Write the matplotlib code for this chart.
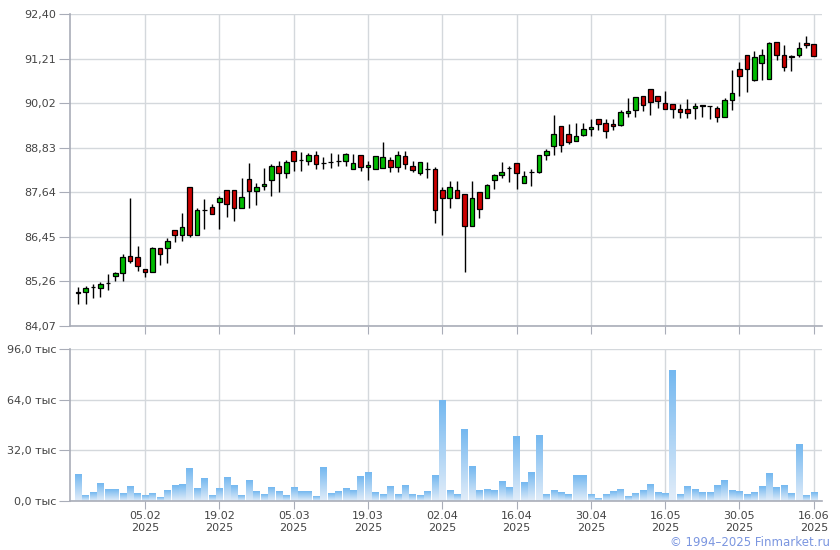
import numpy as np
import matplotlib
matplotlib.use("Agg")
import matplotlib.pyplot as plt
from matplotlib.colors import LinearSegmentedColormap

# Daily OHLC prices (100 trading days)
opens = [84.96, 84.97, 85.11, 85.08, 85.22, 85.40, 85.48, 85.94, 85.91, 85.59,
         85.50, 86.15, 86.14, 86.63, 86.49, 87.78, 86.49, 87.17, 87.25, 87.38,
         87.70, 87.70, 87.22, 87.99, 87.67, 87.80, 87.96, 88.34, 88.15, 88.74,
         88.50, 88.47, 88.63, 88.41, 88.45, 88.47, 88.47, 88.26, 88.63, 88.31,
         88.26, 88.29, 88.50, 88.31, 88.61, 88.34, 88.15, 88.26, 88.26, 87.70,
         87.49, 87.70, 87.59, 86.74, 87.65, 87.49, 87.97, 88.10, 88.29, 88.42,
         87.89, 88.18, 88.18, 88.63, 88.87, 89.41, 89.19, 89.01, 89.17, 89.33,
         89.59, 89.49, 89.46, 89.44, 89.75, 89.83, 90.21, 90.40, 90.21, 90.02,
         89.99, 89.86, 89.86, 89.89, 89.97, 89.94, 89.89, 89.65, 90.10, 90.93,
         91.30, 90.64, 91.09, 90.66, 91.65, 91.30, 91.28, 91.30, 91.62, 91.60]
highs = [85.11, 85.15, 85.18, 85.24, 85.46, 85.51, 85.99, 87.48, 86.20, 85.59,
         86.18, 86.15, 86.41, 86.63, 87.09, 87.78, 87.22, 87.46, 87.32, 87.53,
         87.70, 87.70, 88.02, 88.42, 87.89, 88.28, 88.39, 88.47, 88.50, 88.74,
         88.71, 88.69, 88.74, 88.58, 88.68, 88.66, 88.70, 88.66, 88.63, 88.47,
         88.61, 88.98, 88.58, 88.74, 88.74, 88.47, 88.45, 88.45, 88.31, 87.78,
         87.94, 87.94, 87.59, 87.94, 87.65, 87.86, 88.13, 88.45, 88.34, 88.42,
         88.21, 88.26, 88.63, 88.79, 89.70, 89.41, 89.46, 89.49, 89.49, 89.59,
         89.59, 89.59, 89.59, 89.83, 90.16, 90.18, 90.21, 90.40, 90.21, 90.34,
         89.99, 89.99, 90.13, 90.02, 89.97, 89.94, 89.94, 90.16, 90.90, 91.12,
         91.30, 91.41, 91.46, 91.65, 91.65, 91.57, 91.30, 91.65, 91.81, 91.60]
lows = [84.66, 84.67, 84.81, 84.84, 85.04, 85.26, 85.28, 85.74, 85.53, 85.37,
        85.50, 85.69, 85.74, 86.30, 86.33, 86.45, 86.49, 86.65, 87.06, 86.65,
        86.97, 86.86, 87.22, 87.21, 87.29, 87.69, 87.53, 87.64, 88.01, 88.22,
        88.22, 88.38, 88.25, 88.25, 88.29, 88.33, 88.33, 88.26, 88.22, 87.96,
        88.26, 88.29, 88.17, 88.17, 88.25, 88.17, 88.10, 88.01, 86.81, 86.51,
        87.21, 87.49, 85.50, 86.74, 86.94, 87.49, 87.73, 88.02, 87.91, 87.73,
        87.89, 87.81, 88.15, 88.49, 88.63, 88.71, 88.93, 89.01, 89.14, 89.14,
        89.30, 89.09, 89.30, 89.41, 89.65, 89.65, 89.81, 89.70, 89.89, 89.86,
        89.62, 89.62, 89.62, 89.59, 89.65, 89.59, 89.51, 89.65, 89.83, 90.21,
        90.32, 90.61, 90.64, 90.66, 91.17, 90.87, 90.87, 91.25, 91.49, 91.28]
closes = [84.97, 85.08, 85.11, 85.19, 85.22, 85.48, 85.91, 85.80, 85.66, 85.50,
          86.15, 85.98, 86.35, 86.50, 86.71, 86.49, 87.17, 87.17, 87.06, 87.49,
          87.33, 87.22, 87.51, 87.67, 87.78, 87.87, 88.34, 88.15, 88.45, 88.47,
          88.50, 88.63, 88.39, 88.41, 88.45, 88.47, 88.66, 88.42, 88.31, 88.38,
          88.61, 88.58, 88.31, 88.63, 88.39, 88.23, 88.45, 88.26, 87.17, 87.49,
          87.78, 87.49, 86.74, 87.49, 87.19, 87.83, 88.10, 88.18, 88.29, 88.15,
          88.07, 88.18, 88.63, 88.74, 89.19, 88.90, 88.98, 89.14, 89.33, 89.38,
          89.46, 89.27, 89.41, 89.78, 89.81, 90.18, 89.97, 90.05, 90.08, 89.86,
          89.86, 89.78, 89.75, 89.94, 89.94, 89.94, 89.65, 90.10, 90.29, 90.74,
          90.93, 91.25, 91.30, 91.62, 91.30, 90.98, 91.25, 91.49, 91.57, 91.28]

# Daily volume, thousands
volumes = [16.6, 3.4, 5.3, 10.9, 7.2, 7.2, 4.6, 9.1, 4.6, 3.4,
           4.6, 2.1, 6.5, 9.7, 10.3, 20.4, 7.8, 14.1, 3.4, 7.8,
           14.7, 9.7, 3.4, 12.8, 5.9, 4.0, 8.4, 5.9, 3.4, 8.4,
           5.9, 5.9, 2.7, 21.1, 4.6, 5.9, 7.8, 6.5, 15.4, 17.9,
           5.3, 4.0, 9.1, 4.0, 9.7, 4.0, 3.4, 5.9, 16.0, 63.4,
           6.5, 4.0, 45.1, 21.7, 6.5, 7.2, 6.5, 12.2, 8.4, 40.6,
           11.6, 17.9, 41.3, 4.0, 6.5, 5.3, 4.0, 16.0, 16.0, 4.0,
           1.5, 4.0, 5.9, 7.2, 2.7, 4.6, 6.5, 10.3, 5.3, 4.6,
           82.3, 4.0, 9.1, 7.2, 5.3, 5.3, 9.7, 12.8, 6.5, 5.9,
           4.0, 5.3, 9.1, 17.3, 8.4, 9.7, 4.6, 35.6, 3.4, 5.3]

# Date axis labels (every 10th trading day)
date_tick_index = [9, 19, 29, 39, 49, 59, 69, 79, 89, 99]
date_tick_labels = ["05.02\n2025", "19.02\n2025", "05.03\n2025", "19.03\n2025",
                    "02.04\n2025", "16.04\n2025", "30.04\n2025", "16.05\n2025",
                    "30.05\n2025", "16.06\n2025"]

price_ticks = [84.07, 85.26, 86.45, 87.64, 88.83, 90.02, 91.21, 92.40]
volume_ticks = [0, 32, 64, 96]


def style_axis(ax):
    for side in ("top", "right"):
        ax.spines[side].set_visible(False)
    for side in ("left", "bottom"):
        ax.spines[side].set_color("#a9adb8")
        ax.spines[side].set_linewidth(1.2)
    ax.grid(True, color="#d4d8dc", linewidth=1.0)
    ax.set_axisbelow(True)
    ax.tick_params(axis="y", length=8, color="#a9adb8", labelsize=8,
                   labelcolor="#444444", pad=2)
    ax.tick_params(axis="x", length=6, color="#a9adb8", labelsize=8,
                   labelcolor="#444444", pad=1)


def draw_chart():
    x = np.arange(len(closes))
    o = np.array(opens)
    h = np.array(highs)
    l = np.array(lows)
    c = np.array(closes)
    v = np.array(volumes)

    # Creating a new Canvas
    fig = plt.figure(figsize=(8.4, 5.5), dpi=100)
    pad = fig.add_axes([0.0833, 0.4073, 0.8952, 0.5673])
    vol = fig.add_axes([0.0833, 0.0891, 0.8952, 0.2764])

    # Candles: wicks then bodies
    up = c >= o
    colors = np.where(np.abs(c - o) < 0.02, "black",
                      np.where(up, "#00bb00", "#cc0000"))
    pad.vlines(x, l, h, color="black", linewidth=1.0, zorder=2)
    body_lo = np.minimum(o, c)
    body_h = np.maximum(np.abs(c - o), 0.005)
    pad.bar(x, body_h, bottom=body_lo, width=0.62, color=colors,
            edgecolor="black", linewidth=0.9, zorder=3)

    pad.set_xlim(-1.1, 100.1)
    pad.set_ylim(84.07, 92.40)
    pad.set_yticks(price_ticks)
    pad.set_yticklabels([("%.2f" % t).replace(".", ",") for t in price_ticks])
    pad.set_xticks(date_tick_index)
    pad.set_xticklabels([])
    style_axis(pad)

    # Volume bars with vertical gradient
    cmap = LinearSegmentedColormap.from_list("vol", ["#74b8f0", "#e2edf9"])
    grad = np.linspace(0, 1, 64).reshape(-1, 1)
    w = 0.84
    for xi, vi in zip(x, v):
        vol.imshow(grad, extent=(xi - w / 2, xi + w / 2, 0, vi), aspect="auto",
                   cmap=cmap, interpolation="bilinear", zorder=2)

    vol.set_xlim(-1.1, 100.1)
    vol.set_ylim(0, 96)
    vol.set_yticks(volume_ticks)
    vol.set_yticklabels([("%.1f" % t).replace(".", ",") + " тыс" for t in volume_ticks])
    vol.set_xticks(date_tick_index)
    vol.set_xticklabels(date_tick_labels, linespacing=1.25)
    style_axis(vol)

    fig.text(0.988, 0.0135, "© 1994–2025 Finmarket.ru", ha="right", va="center",
             fontsize=8.5, color="#7b96e0")

    # Saving the image
    fig.savefig("out.png", dpi=100)


# Running!
if __name__ == "__main__":
    draw_chart()
